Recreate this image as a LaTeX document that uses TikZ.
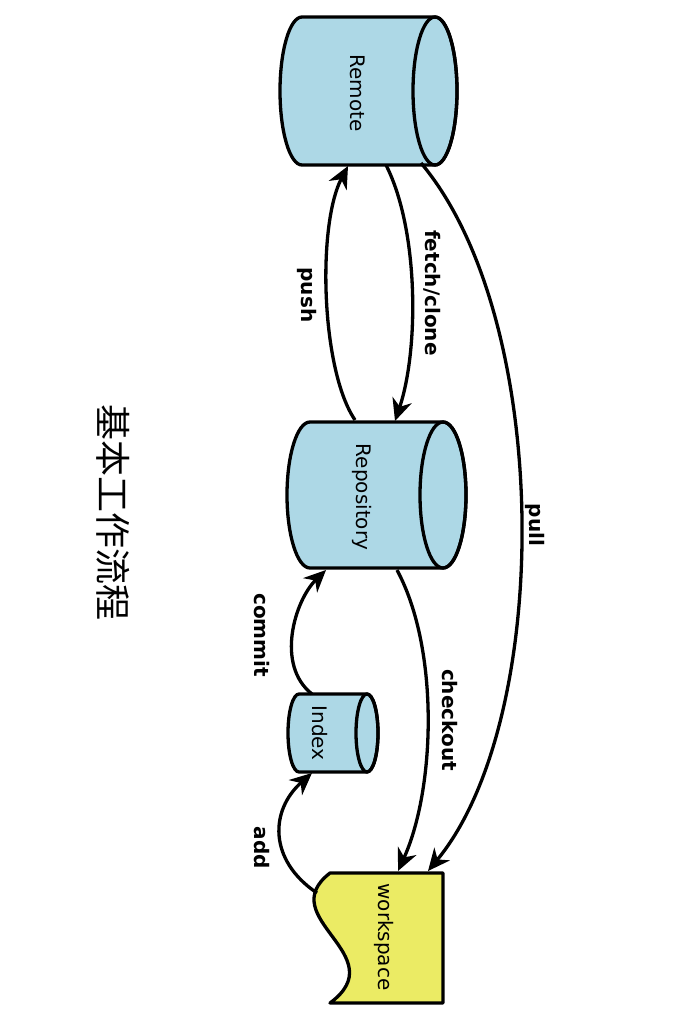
\documentclass[tikz,border=0pt]{standalone}
\usepackage{fontspec}
\setmainfont{DejaVu Sans}
\newfontfamily\cjk{Noto Sans CJK SC}
\usetikzlibrary{arrows.meta}
\definecolor{cylblue}{RGB}{173,216,230}
\definecolor{wsyellow}{RGB}{235,235,100}
\tikzset{
  shapeline/.style={line width=3.3pt, draw=black, line join=round},
  flow/.style={line width=3.3pt, -{Stealth[length=22pt,width=20pt,inset=7pt]}},
  nodetext/.style={rotate=-90, font=\fontsize{20}{24}\selectfont, inner sep=0pt},
  flowlabel/.style={rotate=-90, font=\fontsize{20}{24}\selectfont\bfseries, inner sep=0pt},
}
\begin{document}
\begin{tikzpicture}[x=1pt,y=1pt]
\useasboundingbox (0,0) rectangle (673,-1028);

% Remote cylinder
\filldraw[shapeline, fill=cylblue] (302,-17) -- (435,-17)
  arc[start angle=90, end angle=-90, x radius=22pt, y radius=74pt]
  -- (302,-165)
  arc[start angle=270, end angle=90, x radius=22pt, y radius=74pt] -- cycle;
\draw[shapeline] (435,-91) ellipse[x radius=22pt, y radius=74pt];
\node[nodetext] (remote) at (358,-93) {Remote};

% Repository cylinder
\filldraw[shapeline, fill=cylblue] (310,-422) -- (443,-422)
  arc[start angle=90, end angle=-90, x radius=23pt, y radius=73pt]
  -- (310,-568)
  arc[start angle=270, end angle=90, x radius=23pt, y radius=73pt] -- cycle;
\draw[shapeline] (443,-495) ellipse[x radius=23pt, y radius=73pt];
\node[nodetext] (repo) at (362,-497) {Repository};

% Index cylinder
\filldraw[shapeline, fill=cylblue] (299,-694) -- (367,-694)
  arc[start angle=90, end angle=-90, x radius=11pt, y radius=39pt]
  -- (299,-772)
  arc[start angle=270, end angle=90, x radius=11pt, y radius=39pt] -- cycle;
\draw[shapeline] (367,-733) ellipse[x radius=11pt, y radius=39pt];
\node[nodetext] (index) at (320,-733) {Index};

% workspace
\filldraw[shapeline, fill=wsyellow] (330,-873) -- (443,-873) -- (443,-1003) -- (330,-1003)
  .. controls (395,-955) and (272,-918) .. (330,-873) -- cycle;
\node[nodetext] (ws) at (384,-937) {workspace};

% connector end points
\coordinate (remPush) at (348,-166);
\coordinate (repPush) at (355,-420);
\coordinate (remFetch) at (386,-165);
\coordinate (repFetch) at (395,-421);
\coordinate (remPull) at (421,-163);
\coordinate (wsPull) at (428,-871);
\coordinate (repCo) at (397,-570);
\coordinate (wsCo) at (398,-871);
\coordinate (idxCommit) at (312,-694);
\coordinate (repCommit) at (326,-570);
\coordinate (wsAdd) at (317,-893);
\coordinate (idxAdd) at (312,-773);

\draw[flow] (repPush) .. controls (321,-370) and (317,-225) .. (remPush);
\draw[flow] (remFetch) .. controls (419,-230) and (419,-350) .. (repFetch);
\draw[flow] (remPull) .. controls (553,-320) and (553,-720) .. (wsPull);
\draw[flow] (repCo) .. controls (440,-650) and (435,-790) .. (wsCo);
\draw[flow] (idxCommit) .. controls (275,-665) and (295,-600) .. (repCommit);
\draw[flow] (wsAdd) .. controls (268,-860) and (270,-810) .. (idxAdd);

% labels
\node[flowlabel] (lpush) at (307,-295) {push};
\node[flowlabel] (lfetch) at (432,-293) {fetch/clone};
\node[flowlabel] (lpull) at (535,-525) {pull};
\node[flowlabel] (lco) at (450,-720) {checkout};
\node[flowlabel] (lcommit) at (262,-635) {commit};
\node[flowlabel] (ladd) at (262,-848) {add};

% title
\node[rotate=-90, inner sep=0pt, font=\cjk\fontsize{36}{40}\selectfont] (title) at (113,-512) {基本工作流程};
\end{tikzpicture}
\end{document}
